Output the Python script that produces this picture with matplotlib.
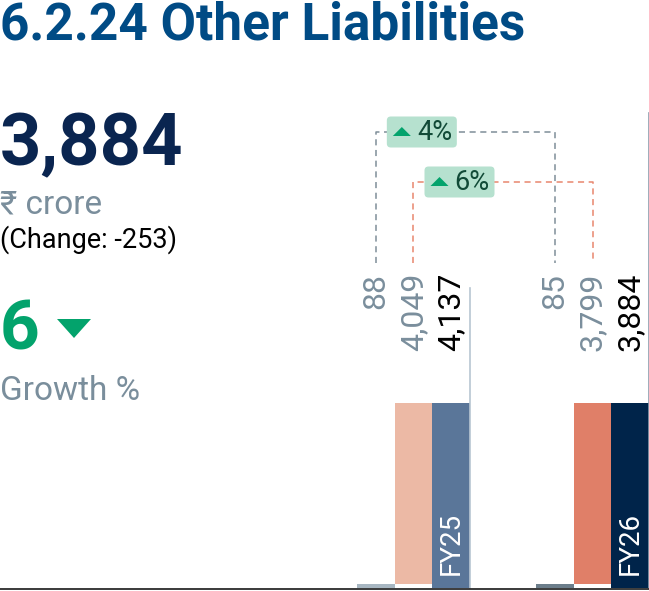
"""Other liabilities card: headline figure plus FY25/FY26 bar groups."""

import matplotlib

matplotlib.use("Agg")
import matplotlib.pyplot as plt
from matplotlib.patches import FancyBboxPatch, Polygon

plt.rcParams["font.family"] = ["Roboto", "DejaVu Sans"]

# data
years = ["FY25", "FY26"]
prior_part = [88, 85]
main_part = [4049, 3799]
totals = [4137, 3884]
labels_prior = ["88", "85"]
labels_main = ["4,049", "3,799"]
labels_total = ["4,137", "3,884"]
growth_prior = "4%"
growth_main = "6%"
headline = "3,884"
change_text = "(Change: -253)"
growth_value = "6"

W, H = 649, 591
C_PRIOR = ["#a8b7c2", "#6c7e8b"]
C_MAIN = ["#ecb9a5", "#e07f68"]
C_TOTAL = ["#5a7699", "#00244a"]
GREY_TXT = "#7a8e9c"
GREEN = "#03a36c"

fig = plt.figure(figsize=(W / 100, H / 100), dpi=100)

# overlay axes in pixel coordinates (origin top-left)
ov = fig.add_axes([0, 0, 1, 1], zorder=5)
ov.set_xlim(0, W)
ov.set_ylim(H, 0)
ov.axis("off")
ov.patch.set_alpha(0)


def to_px(ax, x, y):
    disp = ax.transData.transform((x, y))
    return ov.transData.inverted().transform(disp)


bar_axes = []
group_left = [357, 536]
for i, left in enumerate(group_left):
    ax = fig.add_axes([left / W, (H - 588) / H, 113 / W, 475 / H], zorder=1)
    ax.bar(0, prior_part[i], width=1.0, color=C_PRIOR[i])
    ax.bar(1, main_part[i], width=1.0, bottom=prior_part[i], color=C_MAIN[i])
    ax.bar(2, totals[i], width=1.0, color=C_TOTAL[i])
    ax.set_xlim(-0.5, 2.5)
    ax.set_ylim(0, totals[i] * 475 / 185)
    ax.axis("off")
    ax.text(2, totals[i] * 0.07, years[i], rotation=90, ha="center", va="bottom",
            color="white", fontsize=20)
    bar_axes.append(ax)

# thin vertical guides at the right of each group
bar_axes[0].axvline(2.5, ymin=0, ymax=300 / 475, color="#b8c6d2", lw=1.2, clip_on=False)
bar_axes[1].axvline(2.5, ymin=0, ymax=1.0, color="#8d9eae", lw=1.2, clip_on=False)

# baseline
ov.axhline(589, color="#2b2b2b", lw=1.3)

# value labels
label_top = 273
for i, ax in enumerate(bar_axes):
    for pos, txt, col in [(0, labels_prior[i], GREY_TXT),
                          (1, labels_main[i], GREY_TXT),
                          (2, labels_total[i], "black")]:
        x, _ = to_px(ax, pos, 0)
        ov.text(x, label_top, txt, rotation=90, ha="center", va="top",
                color=col, fontsize=23)

# growth connectors
line_bottom = 263


def connector(pos, y_top, color, pct):
    x1, _ = to_px(bar_axes[0], pos, 0)
    x2, _ = to_px(bar_axes[1], pos, 0)
    ov.plot([x1, x1, x2, x2], [line_bottom, y_top, y_top, line_bottom],
            color=color, lw=1.1, linestyle=(0, (4, 3)))
    bx = x1 + 11
    ov.add_patch(FancyBboxPatch((bx, y_top - 15.5), 70, 31,
                                boxstyle="round,pad=0,rounding_size=4",
                                facecolor="#b6e1cf", edgecolor="none", zorder=6))
    tx = bx + 6
    ov.add_patch(Polygon([[tx, y_top + 4], [tx + 18, y_top + 4], [tx + 9, y_top - 5]],
                         closed=True, facecolor=GREEN, edgecolor="none", zorder=7))
    ov.text(bx + 30, y_top + 1, pct, ha="left", va="center", fontsize=19.5,
            color="#114a37", zorder=7)


connector(0, 132, "#7f8e99", growth_prior)
connector(1, 182, "#e8866e", growth_main)

# left-hand text block
ov.text(0, 39, "6.2.24 Other Liabilities", fontsize=37, fontweight="bold",
        color="#004b85", ha="left", va="baseline")
ov.text(0, 165, headline, fontsize=52, fontweight="bold", color="#0a2550",
        ha="left", va="baseline")
ov.text(0, 213, "₹ crore", fontsize=24, color=GREY_TXT, ha="left", va="baseline")
ov.text(0, 248, change_text, fontsize=19.5, color="black", ha="left", va="baseline")
ov.text(0, 350, growth_value, fontsize=50, fontweight="bold", color=GREEN,
        ha="left", va="baseline")
ov.add_patch(Polygon([[57, 319], [91, 319], [74, 338]], closed=True,
                     facecolor=GREEN, edgecolor="none"))
ov.text(0, 400, "Growth %", fontsize=24, color=GREY_TXT, ha="left", va="baseline")

fig.savefig("out.png", dpi=100)
